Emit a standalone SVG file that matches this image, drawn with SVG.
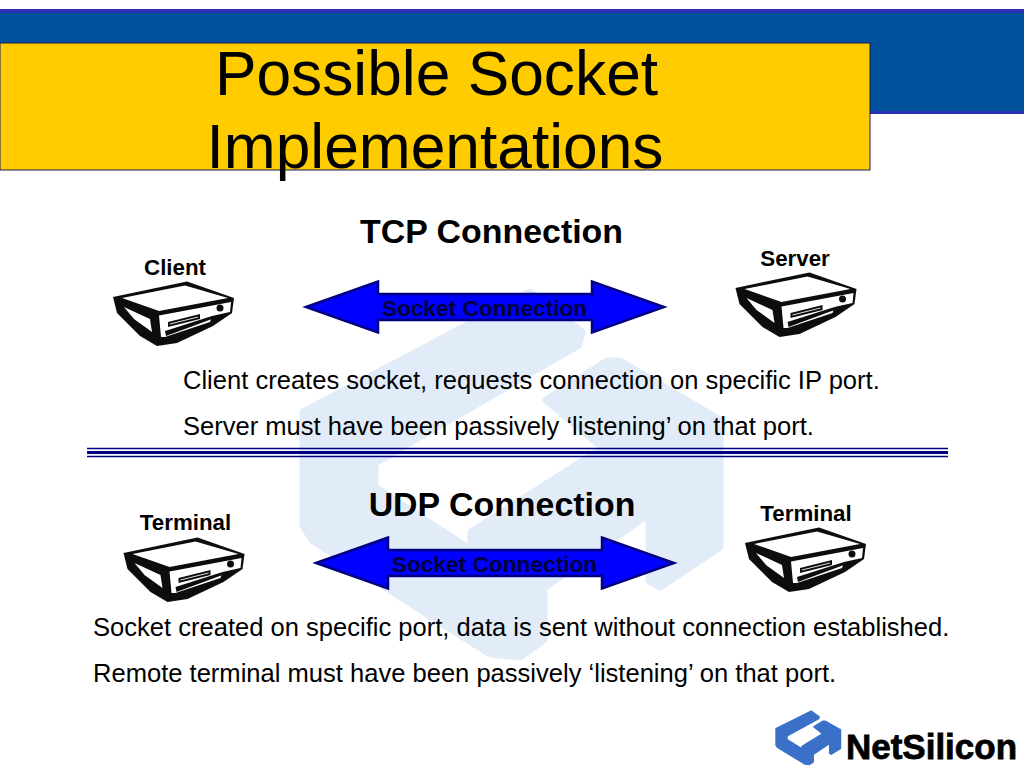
<svg xmlns="http://www.w3.org/2000/svg" xmlns:xlink="http://www.w3.org/1999/xlink" width="1024" height="768" viewBox="0 0 1024 768">
<style>
text{font-family:"Liberation Sans",Arial,sans-serif;fill:#000}
.body{font-size:25.550px}
.head{font-size:33.900px;font-weight:bold}
.lab{font-size:22.300px;font-weight:bold}
.sock{font-size:22.700px;font-weight:bold;fill:#00003c}
.arrow{fill:#0000ff;stroke:#000080;stroke-width:2.500}
.rule{stroke:#000080;fill:none}
</style>
<defs>
<filter id="soft" x="-5%" y="-5%" width="110%" height="110%"><feGaussianBlur stdDeviation=".45"/></filter>
<path id="mark" d="M303 412L530 292L582 332L579 345L375 463L375 487L471 550L471 532L603 448L546 400L607 361L620 361L720 420L720 547L660 587L649 581L649 514L544 588L544 640L520 657L490 654L313 541L303 526Z"/>
<path id="dbl" d="M306 307L378 281.500V294H592V281.500L664 307L592 332.500V320H378V332.500Z"/>
<g id="device" filter="url(#soft)">
<path fill="#0c0c0c" d="M113 297L187 281.500L234 298L232 313L213 326L177 343L157 346L140 336L117 313Z"/>
<path fill="#fff" d="M122 298L185 285.500L228 298L159 311Z"/>
<path fill="#fff" d="M124 307L150 319L152 332L134 319Z"/>
<path fill="#fff" d="M159 315.500L231 302L230 312L212 316L210 322L165 337L161 337Z"/>
<path fill="#111" d="M168 322L200 314V319L168 327Z"/>
<path stroke="#ddd" stroke-width="1" d="M170 324L198 317"/>
<path fill="#111" d="M165 331L212 316L212 319L166 336Z"/>
<circle cx="220" cy="308" r="3.500" fill="#111"/>
</g>
</defs>
<rect width="1024" height="768" fill="#fff"/>
<use xlink:href="#mark" href="#mark" fill="#e1ecf8" stroke="#e1ecf8" stroke-width="7" stroke-linejoin="round"/>
<g id="header">
<rect x="0" y="9" width="1024" height="105" fill="#2b2fb5"/>
<rect x="0" y="13" width="1024" height="98" fill="#00529c"/>
<rect x="0" y="43" width="870" height="127" fill="#ffcc00" stroke="#1c1c50" stroke-width="1"/>
<text x="436.500" y="94.500" font-size="62.300" text-anchor="middle">Possible Socket</text>
<text x="435" y="167.500" font-size="62.300" text-anchor="middle">Implementations</text>
</g>
<g id="connectors">
<use id="tcp-arrow" class="arrow" xlink:href="#dbl" href="#dbl"/>
<use id="udp-arrow" class="arrow" xlink:href="#dbl" href="#dbl" transform="translate(10 256)"/>
</g>
<text class="head" x="491.500" y="243" text-anchor="middle">TCP Connection</text>
<text class="sock" x="484.500" y="316" text-anchor="middle">Socket Connection</text>
<g id="client"><use xlink:href="#device" href="#device"/><text class="lab" x="175" y="275" text-anchor="middle">Client</text></g>
<g id="server"><use xlink:href="#device" href="#device" transform="translate(622.500 -9)"/><text class="lab" x="795" y="266" text-anchor="middle">Server</text></g>
<text class="body" x="183" y="389">Client creates socket, requests connection on specific IP port.</text>
<text class="body" x="183" y="435">Server must have been passively ‘listening’ on that port.</text>
<g id="rule">
<path class="rule" stroke-width="1.300" d="M87 448.500H948M87 456.500H948"/>
<path class="rule" stroke-width="3" d="M87 452.500H948"/>
</g>
<text class="head" x="502" y="516" text-anchor="middle">UDP Connection</text>
<text class="sock" x="494.500" y="572" text-anchor="middle">Socket Connection</text>
<g id="terminal-a"><use xlink:href="#device" href="#device" transform="translate(10.500 256)"/><text class="lab" x="185.500" y="530" text-anchor="middle">Terminal</text></g>
<g id="terminal-b"><use xlink:href="#device" href="#device" transform="translate(632 246)"/><text class="lab" x="806" y="521" text-anchor="middle">Terminal</text></g>
<text class="body" x="93" y="636">Socket created on specific port, data is sent without connection established.</text>
<text class="body" x="93" y="682">Remote terminal must have been passively ‘listening’ on that port.</text>
<g id="logo">
<use xlink:href="#mark" href="#mark" fill="#3a70c8" stroke="#3a70c8" stroke-width="8" stroke-linejoin="round" transform="translate(729 668) scale(.155 .147)"/>
<text x="846" y="759" font-size="35" font-weight="bold" font-family="'DejaVu Sans',sans-serif" textLength="171" lengthAdjust="spacingAndGlyphs" stroke="#000" stroke-width=".8">NetSilicon</text>
</g>
</svg>
